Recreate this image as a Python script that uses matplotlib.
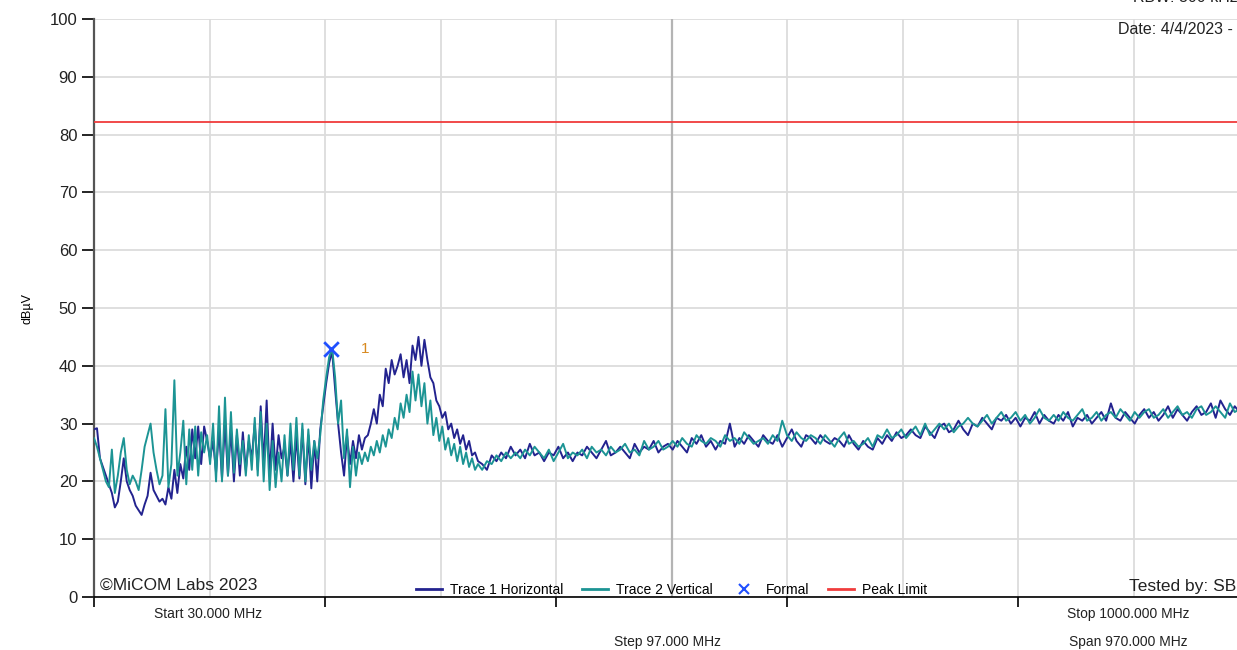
import numpy as np
import matplotlib
matplotlib.use("Agg")
import matplotlib.pyplot as plt
from matplotlib.lines import Line2D

plt.rcParams['font.family'] = ['Liberation Sans', 'DejaVu Sans']

# sweep grid (MHz): fine part up to ~350 MHz, coarser above
freq_low = np.arange(30, 355, 2.5)
freq_high = np.arange(356, 1001, 4)

trace1_low = [
    29, 29.2, 24, 22.5, 21, 19.5, 18, 15.5, 16.5, 20,
    24, 20, 18.5, 17.5, 15.8, 15, 14.2, 16, 17.5, 21.5,
    18.5, 17.5, 16.5, 17, 16, 19, 17, 22, 18, 23,
    20.5, 26, 22, 29, 24, 29.5, 23, 29.5, 27, 24,
    27, 21.5, 29, 20.5, 30, 21, 29, 20, 28, 21,
    28.5, 22, 27, 24, 30, 22, 33, 23, 34, 21,
    30, 22, 28, 24, 26, 21, 27, 20, 28, 20.5,
    29, 19.5, 28, 18.8, 27, 20, 29, 33, 37, 40.5,
    42.5, 36, 30, 25, 21, 28, 23, 27, 24, 28,
    25.5, 27.5, 28, 30, 32.5, 30, 35, 33, 39.5, 37,
    41, 38.5, 40, 42, 38, 41, 37, 43.5, 41, 45,
    40, 44.5, 41, 38, 37, 34, 33, 31, 32, 29,
    30, 27.5, 29, 26.5, 28, 25.5, 27, 24.5, 25, 23.5,
]
trace2_low = [
    27.5, 26, 24, 22, 20, 19, 25.5, 18, 21, 25,
    27.5, 22, 19.5, 21, 20, 18.5, 22, 26, 28, 30,
    25, 22, 19.5, 21, 32.5, 19, 23, 37.5, 21, 25,
    30.5, 19.5, 29, 22, 29.5, 21, 28.5, 25, 28, 23,
    30, 20, 33, 20, 34.5, 21, 32, 21.5, 29, 23,
    27, 21, 28, 22, 31, 21, 32, 20, 30, 18.5,
    27, 19, 25, 20, 28, 21, 30, 22, 31, 21,
    30, 20, 29, 22, 27, 24, 28, 34, 38, 41.5,
    43, 38, 30, 34, 24, 29, 19, 26, 21, 25,
    23, 25, 23.5, 26, 24.5, 27, 25, 28, 26, 29,
    27.5, 31, 29, 33.5, 31, 35, 32, 39, 34, 38.5,
    33, 37, 30, 34, 28, 31, 27, 29.5, 25.5, 27.5,
    24.5, 26.5, 23.5, 26, 23, 25, 22.5, 24, 22, 23,
]
trace1_high = [
    23, 22, 24.5, 23.5, 25, 24, 26, 24.5, 25.5, 24,
    26.5, 24.5, 25, 23.5, 25, 24.5, 26, 24, 25, 23.5,
    25, 24.5, 26, 25, 24, 25.5, 27, 24.5, 25, 26,
    25, 24, 26.5, 25, 26, 25.5, 27, 25, 26, 26.5,
    25.5, 27, 26, 25, 27.5, 26.5, 28, 26, 27, 25.5,
    27, 26.5, 30, 26, 27.5, 26.5, 28, 27, 26, 28,
    27, 26.5, 28, 26, 27.5, 29, 27, 26, 28, 27.5,
    26.5, 28, 27, 26.5, 27.5, 27, 26, 28, 26.5, 25.5,
    27, 26, 25.5, 27.5, 26.5, 28, 27, 28.5, 27.5, 28,
    29, 28, 27.5, 29.5, 28.5, 27.5, 29.5, 30, 28.5, 29,
    30.5, 29, 28, 30, 29.5, 31, 30, 29, 31, 30.5,
    31.5, 30, 31, 29.5, 31, 30.5, 32, 30, 31.5, 30.5,
    30, 31.5, 30.5, 32, 29.5, 31, 30.5, 31.5, 30, 31,
    32, 30.5, 33.5, 31, 30.5, 32, 31, 30, 31.5, 32.5,
    31, 32, 30.5, 31.5, 33, 31, 32.5, 31.5, 30.5, 32,
    33, 31.5, 32, 33.5, 31, 34, 32.5, 31.5, 33, 32, 31.5, 32.5,
]
trace2_high = [
    22, 23.5, 23, 24.5, 23.5, 25, 24, 25, 24, 25.5,
    24.5, 26, 25, 24, 25.5, 23.5, 25, 26.5, 24, 25,
    24.5, 25.5, 24, 26, 25, 25.5, 24.5, 26, 25, 25.5,
    26.5, 25, 25.5, 24.5, 27, 25.5, 26, 27, 25.5, 26,
    27, 26, 27.5, 26.5, 26, 28, 27, 26.5, 27.5, 27,
    26, 28, 27, 27.5, 26.5, 28.5, 27.5, 26.5, 27, 27.5,
    26.5, 28, 27, 30.5, 28, 27, 28.5, 27.5, 27, 28,
    27.5, 26.5, 28, 27, 26, 27.5, 28.5, 26.5, 27, 26,
    26.5, 27.5, 26, 28, 27.5, 29, 27.5, 28, 29, 27.5,
    28.5, 29.5, 28, 30, 28, 29, 30, 29, 30, 28.5,
    29.5, 30, 31, 30, 29.5, 30.5, 31.5, 30, 31, 32,
    30.5, 31, 32, 30.5, 31.5, 30, 31, 32.5, 31, 30.5,
    31.5, 30.5, 32, 31, 30.5, 31.5, 32.5, 30.5, 31, 32,
    30.5, 31.5, 32, 31, 32.5, 31.5, 30.5, 32, 31, 32,
    32.5, 31, 31.5, 32.5, 31, 32, 33, 31.5, 32, 31,
    32.5, 33, 31.5, 32, 33, 32, 31, 33.5, 32, 32.5, 33, 32,
]

peak_limit = 82.2
marker_freq = 229.0
marker_level = 42.9

freq = np.concatenate([freq_low, freq_high])
trace1 = np.array(trace1_low + trace1_high)
trace2 = np.array(trace2_low + trace2_high)

navy = '#23238f'
teal = '#1c9494'

fig = plt.figure(figsize=(12.37, 6.5), dpi=100)
# plot area runs past the right edge of the picture, like the original
ax = fig.add_axes([94 / 1237, 53 / 650, 1155 / 1237, 578 / 650])

ax.set_xlim(30, 1000)
ax.set_ylim(0, 100)

ax.set_xticks(np.arange(30, 1001, 194))
ax.set_xticks(np.arange(127, 1001, 194), minor=True)
ax.set_xticklabels([])
ax.set_yticks(np.arange(0, 101, 10))
ax.tick_params(axis='x', which='major', length=7, width=1.2, color='black')
ax.tick_params(axis='x', which='minor', length=0)
ax.tick_params(axis='y', length=9, width=1.2, color='black', pad=3,
               labelsize=12, labelcolor='#222222')

ax.grid(True, which='both', color='#dcdcdc', linewidth=1.3)
ax.axvline(515, color='#b4b4b4', linewidth=1.6, zorder=1)
ax.set_axisbelow(True)

for side in ['top', 'right']:
    ax.spines[side].set_visible(False)
ax.spines['left'].set_color('#555555')
ax.spines['left'].set_linewidth(1.6)
ax.spines['bottom'].set_color('black')
ax.spines['bottom'].set_linewidth(1.2)

ax.axhline(peak_limit, color='#f03c3c', linewidth=1.3, zorder=3)
ax.plot(freq, trace1, color=navy, linewidth=1.4, zorder=4)
ax.plot(freq, trace2, color=teal, linewidth=1.4, zorder=5)
ax.scatter([marker_freq], [marker_level], marker='x', s=110, color='#2050ff',
           linewidths=2, zorder=6)
ax.text(marker_freq + 25, marker_level, '1', color='#d88a20', fontsize=11,
        va='center', ha='left')

ax.set_ylabel('dBµV', fontsize=9)
ax.yaxis.set_label_coords(-(94 - 33) / 1155, 0.5)

ax.text(0.005, 0.008, '©MiCOM Labs 2023', transform=ax.transAxes,
        fontsize=12.5, color='#222222', va='bottom', ha='left')

handles = [
    Line2D([], [], color=navy, linewidth=2),
    Line2D([], [], color=teal, linewidth=2),
    Line2D([], [], color='#2050ff', marker='x', linestyle='none',
           markersize=7, markeredgewidth=1.5),
    Line2D([], [], color='#f03c3c', linewidth=2),
]
labels = ['Trace 1 Horizontal', 'Trace 2 Vertical', 'Formal', 'Peak Limit']
ax.legend(handles, labels, loc='lower center', bbox_to_anchor=(0.5, -0.022),
          ncol=4, frameon=False, fontsize=10, handlelength=1.9,
          handletextpad=0.6, columnspacing=1.3)

fig.text(1236 / 1237, 1 - 587 / 650, 'Tested by: SB', fontsize=12.5,
         color='#222222', ha='right', va='center')
fig.text(1118 / 1237, 1 - 29 / 650, 'Date: 4/4/2023 -', fontsize=11.5,
         color='#222222', ha='left', va='center')
fig.text(1133 / 1237, 1 + 3 / 650, 'RBW: 300 kHz', fontsize=11.5,
         color='#222222', ha='left', va='center')

fig.text(208 / 1237, 1 - 614 / 650, 'Start 30.000 MHz', fontsize=10,
         color='#222222', ha='center', va='center')
fig.text(1128 / 1237, 1 - 614 / 650, 'Stop 1000.000 MHz', fontsize=10,
         color='#222222', ha='center', va='center')
fig.text(668 / 1237, 1 - 642 / 650, 'Step 97.000 MHz', fontsize=10,
         color='#222222', ha='center', va='center')
fig.text(1128 / 1237, 1 - 642 / 650, 'Span 970.000 MHz', fontsize=10,
         color='#222222', ha='center', va='center')

fig.savefig('out.png', dpi=100)
